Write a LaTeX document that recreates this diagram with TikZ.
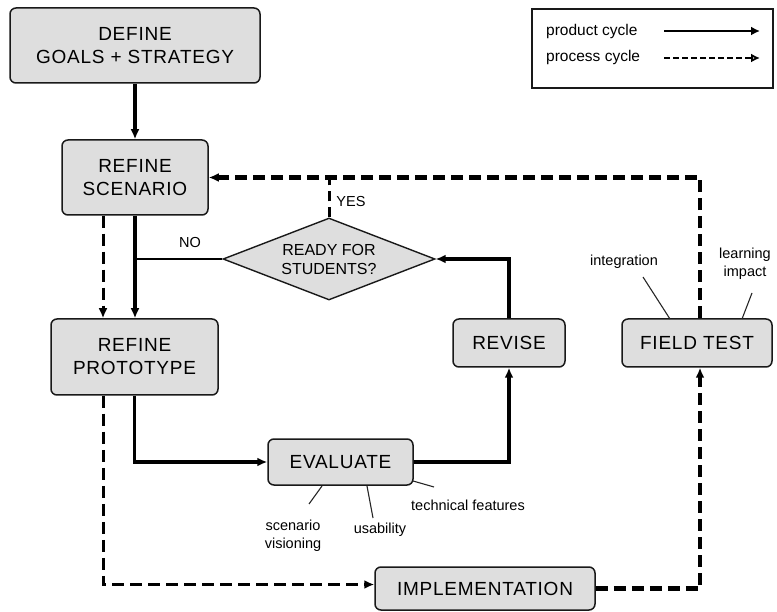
\documentclass[tikz,border=0pt]{standalone}
\usepackage{fontspec}
\setmainfont{Liberation Sans}
\newfontfamily\spacedfont[LetterSpace=4]{Liberation Sans}
\usetikzlibrary{arrows.meta,shapes.geometric,calc}
\begin{document}
\begin{tikzpicture}[x=1pt,y=-1pt,
  box/.style={draw=black!90,line width=1.5pt,fill=black!13,rounded corners=6pt,
    align=center,inner sep=0pt,font=\spacedfont\fontsize{19}{23}\selectfont},
  small/.style={font=\fontsize{14.5}{17}\selectfont,align=center,inner sep=0pt},
  prod/.style={line width=3.8pt,-{Latex[length=10pt,width=9pt]}},
  proc/.style={line width=3.4pt,dash pattern=on 12pt off 6pt,-{Latex[length=10pt,width=9pt]}},
  note/.style={line width=1.1pt,black!85}]
\useasboundingbox (0,0) rectangle (777,612);
% boxes
\node[box,minimum width=250pt,minimum height=75pt] (define) at (135,45.5) {DEFINE\\GOALS + STRATEGY};
\node[box,minimum width=146pt,minimum height=75pt] (scen) at (135,177.5) {REFINE\\SCENARIO};
\node[box,minimum width=167pt,minimum height=76pt] (proto) at (134.5,357) {REFINE\\PROTOTYPE};
\node[box,minimum width=145pt,minimum height=46pt] (evalu) at (340.5,462) {EVALUATE};
\node[box,minimum width=112pt,minimum height=48pt] (revise) at (509,343) {REVISE};
\node[box,minimum width=150pt,minimum height=48pt] (field) at (697,343) {FIELD TEST};
\node[box,minimum width=220pt,minimum height=43pt] (impl) at (485,588.5) {IMPLEMENTATION};
\node[diamond,draw=black!90,line width=1.4pt,fill=black!13,minimum width=212pt,minimum height=82pt,inner sep=0pt] (dia) at (329,259) {};
\node[align=center,inner sep=0pt,font=\fontsize{16}{19}\selectfont] (diatext) at (dia) {READY FOR\\STUDENTS?};
% legend
\node[draw=black!90,line width=1.5pt,minimum width=241pt,minimum height=79pt,inner sep=0pt] (legend) at (652.5,48.5) {};
\node[small,anchor=west,font=\fontsize{15.5}{18}\selectfont] (lprod) at (546,31) {product cycle};
\node[small,anchor=west,font=\fontsize{15.5}{18}\selectfont] (lproc) at (546,57) {process cycle};
\coordinate (lp1) at (664,31); \coordinate (lp2) at (760,31);
\coordinate (lq1) at (664,58); \coordinate (lq2) at (760,58);
\draw[line width=2.8pt,-{Latex[length=9pt,width=9pt]}] (lp1) -- (lp2);
\draw[line width=2.8pt,dash pattern=on 6pt off 3pt,-{Latex[open,length=9pt,width=9pt]}] (lq1) -- (lq2);
% product cycle
\draw[prod] (define.south) -- (scen.north);
\draw[prod] (scen.south) -- (scen.south |- proto.north);
\draw[prod] (proto.south) |- (evalu.west);
\draw[prod] (evalu.east) -| (revise.south);
\draw[prod] (revise.north) |- (dia.east);
\draw[line width=2.2pt] (dia.west) -- (dia.west -| scen.south);
% process cycle
\draw[proc,line width=3pt] ([xshift=-32pt]scen.south) -- ([xshift=-31.5pt]proto.north);
\draw[proc,line width=3pt] ([xshift=-31.5pt]proto.south) |- ([yshift=4pt]impl.west);
\draw[proc,line width=4.4pt] (impl.east) -| ([xshift=3pt]field.south);
\draw[proc,line width=4.4pt] ([xshift=3pt]field.north) |- (scen.east);
\draw[line width=3pt,dash pattern=on 10pt off 6pt] (dia.north) -- (dia.north |- scen.east);
% labels
\node[small] (yes) at (351,202) {YES};
\node[small] (no) at (190,243) {NO};
\node[small] (integ) at (624,262) {integration};
\node[small,font=\fontsize{14.5}{18}\selectfont] (learn) at (745,264) {learning\\impact};
\node[small,font=\fontsize{14.5}{18}\selectfont] (scvis) at (293,536) {scenario\\visioning};
\node[small] (usab) at (380,530) {usability};
\node[small] (techf) at (468,505) {technical features};
% annotation lines
\coordinate (i1) at (643,277); \coordinate (i2) at (670,319);
\coordinate (m1) at (752,293); \coordinate (m2) at (742,319);
\coordinate (s1) at (322,486); \coordinate (s2) at (309,504);
\coordinate (u1) at (367,486); \coordinate (u2) at (373,518);
\coordinate (t1) at (413,481); \coordinate (t2) at (434,487);
\draw[note] (i2) -- (i1);
\draw[note] (m2) -- (m1);
\draw[note] (s1) -- (s2);
\draw[note] (u1) -- (u2);
\draw[note] (t1) -- (t2);
\end{tikzpicture}
\end{document}
